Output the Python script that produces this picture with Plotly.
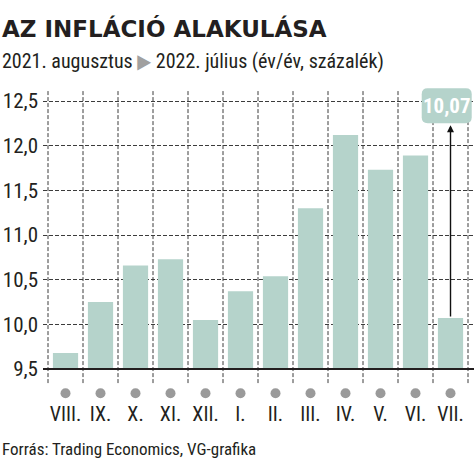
import plotly.graph_objects as go

months = ["VIII.", "IX.", "X.", "XI.", "XII.", "I.", "II.", "III.", "IV.", "V.", "VI.", "VII."]
inflation = [9.68, 10.25, 10.66, 10.73, 10.05, 10.37, 10.54, 11.30, 12.12, 11.73, 11.89, 10.07]
y_ticks = [9.5, 10.0, 10.5, 11.0, 11.5, 12.0, 12.5]
baseline = 9.5

FONT = "Roboto Condensed, DejaVu Sans Condensed, sans-serif"
TITLE_FONT = "DejaVu Sans, sans-serif"
BAR = "#b5d3cb"
INK = "#231f20"
GRID = "#3c3c3c"

xs = list(range(len(months)))
y_lo, y_hi = 9.176, 12.612      # axis extends below 9.5 so the dots fit in
grid_lo = 9.343                 # where the dashed separators stop

fig = go.Figure()
fig.add_trace(go.Bar(
    x=xs, y=[v - baseline for v in inflation], base=baseline,
    width=0.72, marker=dict(color=BAR, line=dict(width=0)),
    hovertext=[f"{v:.2f}".replace(".", ",") for v in inflation], hoverinfo="text",
))
# grey dots under the month labels
fig.add_trace(go.Scatter(
    x=xs, y=[baseline - 0.27] * len(xs), mode="markers", cliponaxis=False,
    marker=dict(color="#9a9a9a", size=10), hoverinfo="skip",
))

# vertical dashed separators between months
for i in range(len(months) + 1):
    fig.add_shape(type="line", xref="x", yref="y", x0=i - 0.5, x1=i - 0.5, y0=grid_lo, y1=y_hi,
                  line=dict(color=GRID, width=1, dash="4px,2px"), layer="below")
fig.add_shape(type="line", xref="paper", yref="y", x0=0, x1=1, y0=baseline, y1=baseline,
              line=dict(color=INK, width=2))

# highlighted last value box
x0, x1, y0, y1 = 0.8787, 0.9947, 0.8948, 1.0088
rx, ry = 0.0139, 0.0195
path = (f"M {x0+rx},{y0} L {x1-rx},{y0} Q {x1},{y0} {x1},{y0+ry} L {x1},{y1-ry} "
        f"Q {x1},{y1} {x1-rx},{y1} L {x0+rx},{y1} Q {x0},{y1} {x0},{y1-ry} "
        f"L {x0},{y0+ry} Q {x0},{y0} {x0+rx},{y0} Z")
fig.add_shape(type="path", xref="paper", yref="paper", path=path,
              fillcolor=BAR, line=dict(width=0))
fig.add_annotation(xref="paper", yref="paper", x=(x0 + x1) / 2, y=(y0 + y1) / 2,
                   xanchor="center", yanchor="middle",
                   text="<b>" + f"{inflation[-1]:.2f}".replace(".", ",") + "</b>",
                   showarrow=False, font=dict(family=FONT, size=21, color="white"))
fig.add_annotation(x=xs[-1], y=12.23, ax=xs[-1], ay=inflation[-1], xref="x", yref="y",
                   axref="x", ayref="y", text="", showarrow=True, arrowhead=2,
                   arrowsize=1, arrowwidth=1.4, arrowcolor="#111")

fig.add_annotation(xref="paper", yref="paper", x=-0.0998, y=1.2052, xanchor="left",
                   yanchor="middle", showarrow=False,
                   text="<b>AZ INFLÁCIÓ ALAKULÁSA</b>",
                   font=dict(family=TITLE_FONT, size=23, color=INK))
fig.add_annotation(xref="paper", yref="paper", x=-0.0998, y=1.0977, xanchor="left",
                   yanchor="middle", showarrow=False,
                   text="2021. augusztus <span style='color:#a0a0a0'>▶</span> 2022. július (év/év, százalék)",
                   font=dict(family=FONT, size=20, color=INK))
fig.add_annotation(xref="paper", yref="paper", x=-0.0998, y=-0.1661, xanchor="left",
                   yanchor="middle", showarrow=False,
                   text="Forrás: Trading Economics, VG-grafika",
                   font=dict(family=FONT, size=17, color=INK))

fig.update_layout(
    width=474, height=464,
    margin=dict(l=43, r=0, t=91, b=66),
    paper_bgcolor="white", plot_bgcolor="white",
    showlegend=False, separators=", ",
    font=dict(family=FONT, color=INK),
)
fig.update_xaxes(range=[-0.643, 11.671], tickvals=xs, ticktext=months, showgrid=False,
                 zeroline=False, showline=False, ticks="", ticklabelstandoff=2, automargin=False,
                 tickfont=dict(family=FONT, size=20, color=INK))
fig.update_yaxes(range=[y_lo, y_hi], tickvals=y_ticks, tickformat=".1f",
                 showgrid=True, gridcolor=GRID, gridwidth=1, griddash="4px,2px",
                 zeroline=False, showline=False, ticks="", ticklabelstandoff=4, automargin=False,
                 tickfont=dict(family=FONT, size=21, color=INK))

fig.write_html("out.html", config={"displayModeBar": False},
               post_script="document.body.style.margin = '0';")
